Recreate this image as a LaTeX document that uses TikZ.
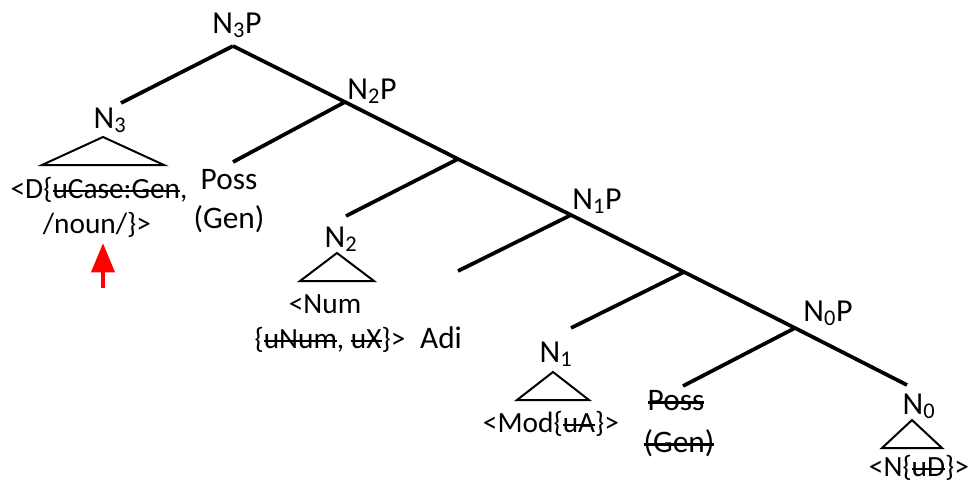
\documentclass[tikz,border=0pt]{standalone}
\usepackage{fontspec}
\setmainfont{Carlito}
\usepackage{tikz}
\usetikzlibrary{arrows.meta}
\newcommand{\catfont}{\fontsize{24}{28}\selectfont}
\newcommand{\featfont}{\fontsize{22}{26}\selectfont}
\newcommand{\bigfont}{\fontsize{23.5}{28}\selectfont}
\newcommand{\gone}[1]{\setbox0\hbox{#1}\rlap{\vrule height 0.275em depth -0.205em width \wd0}\box0}
\newcommand{\roof}[3]{\draw[roof] (#1,#2) -- ++(-#3,28) -- ++({2*#3},0) -- cycle;}

\begin{document}
\begin{tikzpicture}[x=0.75pt,y=-0.75pt,
  branch/.style={line width=2.8pt},
  roof/.style={line width=1.5pt, line join=miter},
  cat/.style={anchor=base, inner sep=0pt, font=\catfont},
  word/.style={anchor=base, inner sep=0pt, font=\featfont},
  bigword/.style={anchor=base, inner sep=0pt, font=\bigfont}]
  \useasboundingbox (0,0) rectangle (971,483);

  % spine and branch points
  \coordinate (n3p) at (233,46);
  \coordinate (n2p) at (345,102);
  \coordinate (m2)  at (458,159);
  \coordinate (n1p) at (571,215);
  \coordinate (m1)  at (684,272);
  \coordinate (n0p) at (795,328);
  \coordinate (n0)  at (907,385);
  % leaf ends
  \coordinate (e3)    at (121,103);
  \coordinate (eposs) at (233,162);
  \coordinate (e2)    at (346,216);
  \coordinate (eadj)  at (458,271);
  \coordinate (e1)    at (571,328);
  \coordinate (epos2) at (683,386);

  \draw[branch] (n3p) -- (n2p) -- (m2) -- (n1p) -- (m1) -- (n0p) -- (n0);
  \draw[branch] (n3p) -- (e3)  (n2p) -- (eposs)  (m2) -- (e2)
                (n1p) -- (eadj)  (m1) -- (e1)  (n0p) -- (epos2);

  % phrase labels
  \node[cat] (lN3P) at (237,33)  {N\textsubscript{3}P};
  \node[cat] (lN2P) at (372,99)  {N\textsubscript{2}P};
  \node[cat] (lN1P) at (597,209) {N\textsubscript{1}P};
  \node[cat] (lN0P) at (828,321) {N\textsubscript{0}P};
  \node[cat] (lN3)  at (110,128) {N\textsubscript{3}};
  \node[cat] (lN2)  at (341,247) {N\textsubscript{2}};
  \node[cat] (lN1)  at (556,362) {N\textsubscript{1}};
  \node[cat] (lN0)  at (919,414) {N\textsubscript{0}};

  % roofs
  \roof{103}{137}{61}
  \roof{337}{253}{37}
  \roof{553}{372}{36}
  \roof{912}{420}{30}

  % leaves
  \node[word]    (d1)    at (99,198)  {<D\{\gone{uCase:Gen},};
  \node[word]    (d2)    at (97,233)  {/noun/\}>};
  \node[bigword] (poss1) at (229,189) {Poss};
  \node[bigword] (gen1)  at (229,228) {(Gen)};
  \node[word]    (num1)  at (325,313) {<Num};
  \node[word]    (num2)  at (330,348) {\{\gone{uNum}, \gone{uX}\}>};
  \node[bigword] (adi)   at (441,348) {Adi};
  \node[word]    (mod)   at (551,432) {<Mod\{\gone{uA}\}>};
  \node[bigword] (poss2) at (676,410) {\gone{Poss}};
  \node[bigword] (gen2)  at (679,452) {\gone{(Gen)}};
  \node[word]    (nn)    at (919,476) {<N\{\gone{uD}\}>};

  % red arrow
  \coordinate (arrTail) at (103,288);
  \coordinate (arrTip)  at (103,243);
  \draw[red, line width=3.6pt, -{Triangle[length=22pt,width=17pt]}] (arrTail) -- (arrTip);
\end{tikzpicture}
\end{document}
